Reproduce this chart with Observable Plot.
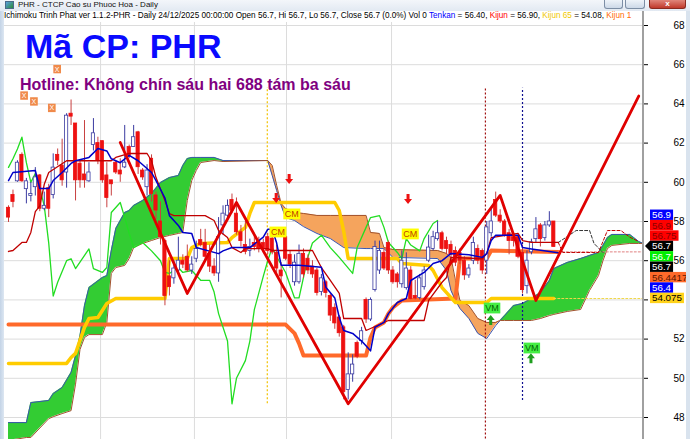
<!DOCTYPE html>
<html><head><meta charset="utf-8">
<script src="https://cdn.jsdelivr.net/npm/d3@7"></script>
<script src="https://cdn.jsdelivr.net/npm/@observablehq/plot@0.6"></script>
<style>
html,body{margin:0;padding:0;background:#fff;}
#wrap{position:relative;width:690px;height:439px;overflow:hidden;font-family:"Liberation Sans",Arial,sans-serif;background:#fff;}
#wrap svg{position:absolute;left:0;top:0;}
.ov{position:absolute;white-space:nowrap;line-height:1;}
#titlebar{left:0;top:0;width:690px;height:11px;background:linear-gradient(#f3f6fa,#e2e9f2);}
#ttext{left:18px;top:1px;font-size:8px;color:#111;}
#icon{left:5px;top:1px;width:9px;height:8px;background:linear-gradient(135deg,#5aa0e0,#2a8a3a);border:1px solid #4a6a8a;box-sizing:border-box;}
.btn{top:0;height:9px;border:1px solid #7d8ea5;border-top:none;border-radius:0 0 3px 3px;box-sizing:border-box;background:linear-gradient(#eef3f9,#cdd9e8);}
#bclose{background:linear-gradient(#e0857a,#c0392b);border-color:#8a2a20;color:#fff;font-size:8px;font-weight:bold;text-align:center;line-height:8px;}
#header{left:4px;top:11px;width:636px;height:10px;background:#fff;font-size:8.2px;color:#000;overflow:hidden;padding-top:1px;}
#lstrip{left:0;top:11px;width:4px;height:428px;background:linear-gradient(90deg,#c3d3e6,#dde7f2);}
#rstrip{left:686px;top:11px;width:4px;height:428px;background:#d9e3ee;}
#t1{left:25px;top:31.2px;font-size:34px;line-height:30px;font-weight:bold;color:#0a0aff;}
#t2{left:20px;top:78px;font-size:16px;line-height:13px;font-weight:bold;color:#800080;}
</style></head>
<body><div id="wrap"></div>
<script>
// ---------- data (bar index) ----------
const candleOpen  = [58.7,59.35,60.05,61.4,59.65,59.3,59.75,60.35,58.65,59.7,59.35,61.4,60.85,60.5,63.5,63.0,60.95,60.4,60.05,61.9,62.0,62.1,60.35,60.1,61.0,60.6,60.76,61.8,61.8,62.55,60.6,59.75,61.2,59.33,58.0,57.0,55.2,55.1,55.5,56.0,56.2,55.5,56.1,57.05,56.9,56.35,55.7,55.35,57.8,58.3,59.1,58.4,57.45,56.8,56.5,56.9,57.0,56.9,57.2,57.13,56.4,55.5,57.2,56.3,54.9,54.9,56.35,56.1,55.7,55.5,54.4,54.9,54.2,53.6,53.1,52.6,49.4,50.2,51.8,51.9,54.0,53.0,54.5,55.5,56.4,56.9,55.5,55.3,54.8,54.6,55.5,54.2,54.1,54.65,56.0,56.6,57.1,57.4,57.0,56.8,56.5,56.4,56.0,55.25,56.0,56.6,56.5,56.0,57.4,59.1,58.3,58.0,57.4,57.2,57.2,56.4,54.7,56.43,57.1,57.8,57.15,57.8,58.0];
const candleHigh  = [58.8,59.6,61.1,61.5,60.2,60.0,60.75,60.4,59.5,59.9,61.45,61.7,62.2,63.5,64.2,63.0,61.1,63.15,61.0,63.25,62.3,62.1,61.0,60.1,61.1,61.2,62.9,61.9,62.9,62.6,60.7,60.9,61.4,59.5,59.0,57.1,56.0,56.0,57.2,56.3,56.8,56.2,57.0,57.6,57.6,56.8,56.1,58.2,58.8,59.1,59.4,59.2,57.8,58.0,57.1,57.3,57.2,57.1,57.4,57.3,56.8,55.9,57.3,56.5,56.3,56.8,56.6,56.3,56.0,55.6,55.3,55.0,54.3,53.8,53.2,52.7,51.3,51.2,51.9,52.6,54.1,54.1,57.0,57.0,56.6,57.0,55.7,55.4,56.5,56.4,55.7,55.0,55.3,55.7,57.3,57.5,58.0,57.5,57.2,57.0,56.7,56.6,56.2,55.8,57.2,56.8,56.6,58.0,58.7,59.5,58.6,58.1,57.6,57.4,57.3,56.8,56.5,57.1,58.2,57.9,58.0,58.5,58.0];
const candleLow   = [57.95,58.7,60.0,60.0,58.9,59.0,59.3,58.5,58.55,58.2,59.15,60.85,59.8,59.7,62.9,59.05,59.7,59.7,60.0,61.6,60.9,59.95,58.7,59.3,60.4,60.0,60.7,61.2,61.8,60.4,60.1,59.3,59.0,58.1,56.8,53.7,54.2,54.8,55.4,55.6,55.4,55.3,55.9,56.7,55.9,55.4,55.2,54.9,57.3,58.1,58.4,57.3,56.7,56.3,56.2,56.5,56.4,56.4,56.3,56.3,55.2,54.1,56.0,55.6,54.7,54.8,55.1,55.3,55.1,54.2,54.2,54.1,52.9,52.5,52.1,48.9,48.9,49.8,51.0,51.7,52.8,52.9,54.4,55.3,55.5,55.3,54.8,54.6,54.6,54.5,54.0,54.0,54.0,54.5,55.9,56.5,57.0,56.5,56.3,56.1,55.7,55.8,55.0,55.1,55.8,55.8,55.3,55.3,57.2,58.2,57.9,57.2,56.3,56.7,56.1,54.3,54.3,56.3,56.9,56.7,57.0,57.7,56.7];
const candleClose = [58.2,59.0,61.0,60.05,60.05,59.4,60.25,58.65,58.8,58.65,60.75,61.1,60.1,63.4,63.35,60.1,60.1,60.1,60.5,62.5,61.1,60.1,59.2,59.9,60.5,60.4,61.0,61.35,62.3,60.77,60.25,60.6,59.4,58.56,57.2,54.2,54.65,55.6,56.0,55.8,55.5,55.8,56.6,56.8,56.2,55.7,55.35,57.2,58.4,58.8,58.55,57.45,57.0,56.45,56.7,56.7,56.6,56.6,56.5,56.42,55.6,55.2,56.1,55.8,55.9,56.35,55.3,55.5,55.3,54.35,55.1,54.35,53.2,52.8,52.3,49.3,50.2,50.7,51.1,52.4,53.0,54.0,56.7,56.5,55.6,55.5,54.9,54.9,56.0,55.6,54.05,54.07,55.1,55.5,56.67,57.2,57.4,56.6,56.6,56.3,55.9,56.0,55.25,55.6,56.9,56.0,55.5,57.7,58.0,58.3,58.0,57.3,57.0,57.0,56.2,54.5,56.0,56.94,57.6,57.1,57.8,58.0,56.7];

const tenkanPts = [[0,60.09],[1,60.5],[6,60.6],[7,59.68],[9,59.68],[10,60.09],[12,60.5],[14,60.96],[15,61.1],[18,61.27],[20,61.72],[22,61.6],[23,61.2],[25,61.0],[27,61.37],[29,61.1],[32,60.5],[33,60.09],[35,59.2],[36,58.3],[38,57.8],[39,57.44],[41,57.39],[42,56.67],[47,56.36],[48,56.5],[50,56.67],[54,56.67],[57,57.2],[58,57.6],[59,57.6],[60,56.9],[61,55.77],[65,55.77],[70,55.67],[71,54.65],[73,54.1],[74,53.1],[75,52.44],[77,52.29],[79,51.9],[81,51.4],[82,52.6],[84,52.85],[85,53.3],[87,53.87],[89,54.07],[90,54.99],[93,55.4],[95,55.86],[97,56.0],[99,56.37],[103,56.3],[106,56.17],[107,56.37],[108,57.03],[109,57.3],[114,57.3],[115,56.67],[117,56.6],[123,56.4]];
const kijunPts = [[0,56.47],[1,56.52],[3,56.93],[4,56.93],[5,57.44],[6,58.5],[7,58.8],[8,59.9],[9,60.5],[13,61.1],[23,61.1],[24,61.27],[27,61.47],[31,61.47],[32,61.1],[33,60.24],[35,59.07],[36,58.4],[37,58.3],[44,58.3],[46,58.05],[47,57.54],[49,57.18],[50,56.67],[52,56.42],[53,56.62],[58,56.62],[59,56.52],[68,56.52],[70,55.65],[72,55.0],[74,54.33],[75,53.05],[79,53.05],[80,52.44],[81,52.54],[85,52.95],[93,52.95],[94,53.97],[97,54.9],[98,55.14],[99,56.17],[106,56.1],[107,56.37],[108,57.18],[114,57.39],[115,57.03],[117,56.93],[123,56.93]];
const chikouPts = [[0,60.76],[1,61.2],[2,61.7],[3,62.3],[4,61.0],[5,60.0],[6,60.45],[7,59.7],[8,58.8],[9,56.9],[10,54.2],[11,54.9],[13,56.0],[14,56.1],[15,55.6],[18,56.6],[19,55.6],[21,55.4],[22,55.65],[23,58.46],[25,58.97],[26,58.2],[27,57.4],[28,56.67],[30,56.93],[32,56.5],[34,56.0],[35,55.4],[36,55.35],[38,55.65],[39,55.4],[41,55.5],[43,55.0],[45,55.0],[46,54.4],[47,53.3],[49,51.9],[50,48.7],[51,50.0],[53,50.9],[54,51.9],[55,53.5],[57,55.2],[58,56.0],[59,56.67],[60,56.2],[62,55.4],[64,54.1],[65,54.1],[67,56.2],[68,56.9],[70,57.3],[72,56.67],[74,56.17],[77,55.35],[78,56.67],[80,57.7],[81,58.2],[83,58.3],[84,57.7],[85,56.93],[87,56.42],[88,56.1],[89,57.13],[90,56.8],[92,56.5],[93,57.13],[95,57.9],[96,58.05]];
// cloud: [bar, senkou A, senkou B]
const cloudPts = [[0,47.74,46.83],[4,47.74,46.98],[5,48.76,46.98],[9,48.87,47.94],[10,49.22,48.04],[12,49.53,48.2],[14,50.3,48.35],[15,51.16,49.7],[16,52.18,51.47],[17,53.71,52.08],[18,54.63,52.23],[21,55.14,52.23],[22,55.24,52.84],[23,56.52,55.35],[24,57.64,55.65],[26,58.46,55.76],[27,58.56,56.11],[28,58.82,56.67],[30,59.07,56.88],[32,59.43,57.03],[34,59.99,57.18],[36,60.24,57.29],[38,60.35,57.39],[39,60.86,57.44],[40,61.21,59.07],[41,61.27,60.09],[42,61.27,60.6],[43,61.27,61.01],[46,61.27,61.11],[48,61.11,61.06],[58,61.11,61.11],[59,60.35,60.86],[60,59.58,59.84],[61,58.82,58.92],[62,58.2,58.66],[64,58.05,58.46],[66,57.74,58.41],[69,57.39,58.31],[72,57.13,58.31],[75,56.67,58.31],[80,56.62,58.31],[81,56.62,57.44],[83,56.62,57.39],[84,56.62,56.67],[86,56.17,56.57],[96,56.11,56.52],[98,55.5,56.37],[99,54.48,56.17],[100,53.97,54.99],[101,53.56,53.97],[103,53.05,53.71],[105,52.29,53.05],[107,52.03,52.85],[109,52.69,52.85],[110,52.95,52.95],[111,53.2,52.95],[113,53.71,52.95],[115,53.82,52.95],[117,54.07,52.95],[119,54.38,53.05],[121,54.99,53.2],[122,55.6,53.26],[125,55.91,53.41],[128,56.11,53.51],[130,56.27,54.48],[132,56.42,55.24],[133,56.78,56.0],[134,57.18,56.62],[135,57.34,56.78],[139,57.34,56.88],[141,56.98,56.88],[142,56.88,56.88]];
const kijun65Pts = [[0,50.76],[13,50.76],[14,51.06],[15,51.27],[17,52.6],[18,53.05],[20,53.1],[21,53.46],[22,53.82],[24,54.07],[35,54.07],[36,56.11],[40,56.11],[41,56.67],[43,56.88],[49,56.93],[50,57.18],[53,57.7],[54,58.41],[55,58.97],[73,58.97],[74,58.56],[75,57.5],[76,56.11],[87,56.11],[88,55.86],[94,55.76],[95,55.5],[97,54.63],[99,54.12],[100,53.87],[107,53.87],[108,54.07],[122,54.07]];
const kijunLongPts = [[0,52.74],[62,52.74],[64,52.29],[65,51.78],[66,51.16],[80,51.16],[81,52.08],[82,52.59],[84,52.85],[85,53.3],[86,53.61],[88,53.97],[100,54.07],[101,56.11],[107,56.11],[108,56.52],[123,56.44]];
const zigzagPts = [[25,62.03],[40,54.33],[51,58.97],[76,48.7],[110,59.33],[118,53.97],[141,64.4]];
const projBlackPts = [[123,56.93],[125,57.23],[127,57.54],[130,57.54],[131,56.88],[133,56.42]];
const projRedPts = [[123,56.93],[124,56.42],[132,56.42],[134,57.54],[137,57.54],[139,57.2],[141,56.98]];
const dotPinkPts = [[123,56.45],[144,56.45]];
const dotYellowPts = [[122,54.07],[144,54.07]];
// vertical dotted markers: [bar, from, to, colour]
const vLines = [[57.9,48.7,64.84,"#f2c200"],[106.7,46.5,64.8,"#a01010"],[115,48.87,64.8,"#101090"]];
const gridBars = [20.6,41.6,62.2,85.7];
const yTicks = [48,50,52,54,56,58,60,62,64,66,68];
// signal labels [bar, value]
const cmPts = [[60.4,57.44],[63.5,58.36],[90,57.34]];
const vmPts = [[108.3,53.56],[117.2,51.52]];
const upArrowPts = [[108,52.95],[117,51.0]];
const downArrowPts = [[60,59.17],[62.9,60.14],[89.5,59.12]];
const xMarkPts = [[3.6,64.4],[5.8,64.1],[9.8,63.77],[11,65.75]];
// value tags on the price axis
const tagTexts = ["56.9","56.9","56.75","56.7","56.7","56.7","56.4417","56.4","54.075"];
const tagValues = [56.9,56.9,56.75,56.7,56.7,56.7,56.4417,56.4,54.075];
const tagFills = ["#0000ff","#ff0000","#ff0000","#000000","#00ee00","#000000","#ff6a2a","#0000ff","#ffd21a"];
const tagInks = ["#ffffff","#8a0000","#8a0000","#ffffff","#ffffff","#ffffff","#5a1500","#ffffff","#000000"];

// ---------- build ----------
const candles = candleOpen.map((o,i)=>({i,o,h:candleHigh[i],l:candleLow[i],c:candleClose[i],up:candleClose[i]>=o}));
const P = a => a.map(([i,v])=>({i,v}));
const cloud = cloudPts.map(([i,a,b])=>({i,a,b,m:Math.max(a,b)}));
const vl = vLines.map(([i,y1,y2,c])=>({i,y1,y2,c}));
const F = "Liberation Sans, Arial, sans-serif";
// the lowest axis tag hides the tick label it sits on
const hiddenTick = Math.round(Math.min(...tagValues));

const chart = Plot.plot({
  width: 690, height: 439,
  marginLeft: 4, marginRight: 47, marginTop: 22, marginBottom: 0,
  style: {background: "transparent", fontFamily: F, overflow: "visible"},
  x: {domain: [0, 122], range: [8, 553.3], axis: null},
  y: {domain: [48, 68], range: [417, 25]},
  marks: [
    Plot.ruleY(yTicks, {stroke: "#dcdcdc", strokeWidth: 1}),
    Plot.ruleX(gridBars, {stroke: "#dcdcdc", strokeWidth: 1}),
    Plot.areaY(cloud, {x: "i", y1: "b", y2: "m", fill: "#33cc33", clip: true}),
    Plot.areaY(cloud, {x: "i", y1: "a", y2: "m", fill: "#f5a45d", clip: true}),
    Plot.line(cloud, {x: "i", y: "a", stroke: "#3a55b0", strokeWidth: 1, clip: true}),
    Plot.line(cloud, {x: "i", y: "b", stroke: "#a0522d", strokeWidth: 1, clip: true}),
    Plot.ruleX(vl, {x: "i", y1: "y1", y2: "y2", stroke: "c", strokeWidth: 1.2, strokeDasharray: "2,2", clip: true}),
    Plot.line(P(kijunLongPts), {x: "i", y: "v", stroke: "#ff6a2a", strokeWidth: 4, clip: true}),
    Plot.line(P(kijun65Pts), {x: "i", y: "v", stroke: "#ffcc00", strokeWidth: 3.5, clip: true}),
    Plot.line(P(dotYellowPts), {x: "i", y: "v", stroke: "#f0d84a", strokeWidth: 1, strokeDasharray: "2,2", clip: true}),
    Plot.line(P(dotPinkPts), {x: "i", y: "v", stroke: "#e08080", strokeWidth: 1, strokeDasharray: "2,2", clip: true}),
    Plot.line(P(chikouPts), {x: "i", y: "v", stroke: "#22dd22", strokeWidth: 1.3, clip: true}),
    Plot.ruleX(candles, {x: "i", y1: "l", y2: "h", stroke: d => d.up ? "#3a3aa0" : "#c84040", strokeWidth: 1, clip: true}),
    Plot.rect(candles, {x1: d => d.i - 0.36, x2: d => d.i + 0.36, y1: "o", y2: "c",
      fill: d => d.up ? "#ffffff" : "#ee1111", stroke: d => d.up ? "#3a3aa0" : "#ee1111", strokeWidth: 0.8, clip: true}),
    Plot.line(P(kijunPts), {x: "i", y: "v", stroke: "#c00000", strokeWidth: 1.3, clip: true}),
    Plot.line(P(tenkanPts), {x: "i", y: "v", stroke: "#0000c8", strokeWidth: 1.5, clip: true}),
    Plot.line(P(projBlackPts), {x: "i", y: "v", stroke: "#333", strokeWidth: 1, strokeDasharray: "3,2", clip: true}),
    Plot.line(P(projRedPts), {x: "i", y: "v", stroke: "#c00000", strokeWidth: 1, strokeDasharray: "3,2", clip: true}),
    Plot.line(P(zigzagPts), {x: "i", y: "v", stroke: "#e00000", strokeWidth: 2.8, clip: true}),
    Plot.axisY({anchor: "right", ticks: yTicks, tickSize: 4, tickPadding: 26, fontSize: 10, label: null, color: "#000",
      tickFormat: d => d === hiddenTick ? "" : String(d)})
  ]
});

const wrap = document.getElementById("wrap");
wrap.appendChild(chart);
const xs = v => chart.scale("x").apply(v);
const ys = v => chart.scale("y").apply(v);
const svg = d3.select(chart);

// axis line
svg.append("line").attr("x1", 643).attr("x2", 643).attr("y1", 11).attr("y2", 439)
  .attr("stroke", "#a0a0a0").attr("stroke-width", 2);

function tag(g, cx, cy, text, bg, ink, fs, pad) {
  const grp = g.append("g");
  const r = grp.append("rect");
  const t = grp.append("text").attr("x", cx).attr("y", cy).attr("text-anchor", "middle")
    .attr("dy", "0.35em").attr("font-size", fs).attr("font-family", F).attr("fill", ink).text(text);
  const w = t.node().getComputedTextLength();
  r.attr("x", cx - w / 2 - pad).attr("y", cy - fs * 0.6).attr("width", w + 2 * pad).attr("height", fs * 1.2).attr("fill", bg);
}
const lab = svg.append("g");
cmPts.forEach(([i, v]) => tag(lab, xs(i), ys(v), "CM", "#ffff00", "#c04000", 9, 1.5));
vmPts.forEach(([i, v]) => tag(lab, xs(i), ys(v), "VM", "#44ee44", "#006400", 9, 1.5));
xMarkPts.forEach(([i, v]) => tag(lab, xs(i), ys(v), "X", "#f08a4a", "#ffffff", 7, 1.5));
upArrowPts.forEach(([i, v]) => {
  lab.append("path").attr("transform", `translate(${xs(i)},${ys(v)})`)
    .attr("d", "M0,-5L4,0L1.5,0L1.5,5L-1.5,5L-1.5,0L-4,0Z").attr("fill", "#1e9e1e");
});
downArrowPts.forEach(([i, v]) => {
  lab.append("path").attr("transform", `translate(${xs(i)},${ys(v)})`)
    .attr("d", "M0,5L4,0L1.5,0L1.5,-5L-1.5,-5L-1.5,0L-4,0Z").attr("fill", "#ee1111");
});

// stacked value tags at the axis (anchored on the lowest value)
const th = 10.4, n = tagValues.length;
const yBottom = ys(Math.min(...tagValues));
const tg = svg.append("g");
tagValues.forEach((v, k) => {
  const cy = yBottom - (n - 1 - k) * th;
  const r = tg.append("rect");
  const t = tg.append("text").attr("x", 652).attr("y", cy).attr("dy", "0.36em").attr("text-anchor", "start")
    .attr("font-size", 9.8).attr("font-family", F).attr("fill", tagInks[k]).text(tagTexts[k]);
  const w = t.node().getComputedTextLength();
  r.attr("x", 650).attr("y", cy - th / 2).attr("width", w + 4).attr("height", th).attr("fill", tagFills[k]);
  if (k === 3) tg.append("path").attr("d", `M650,${cy - th / 2}L645,${cy}L650,${cy + th / 2}Z`).attr("fill", "#000");
});

// overlays: window chrome and texts
wrap.insertAdjacentHTML("beforeend", `
<div class="ov" id="lstrip"></div><div class="ov" id="rstrip"></div>
<div class="ov" id="titlebar"></div>
<div class="ov" id="icon"></div>
<div class="ov" id="ttext">PHR - CTCP Cao su Phuoc Hoa - Daily</div>
<div class="ov btn" style="left:604px;width:19px"></div>
<div class="ov btn" style="left:625px;width:20px"></div>
<div class="ov btn" id="bclose" style="left:649px;width:37px">x</div>
<div class="ov" id="header">Ichimoku Trinh Phat ver 1.1.2-PHR - Daily 24/12/2025 00:00:00 Open 56.7, Hi 56.7, Lo 56.7, Close 56.7 (0.0%) Vol 0 <span style="color:#0000ff">Tenkan</span>  = 56.40, <span style="color:#ff0000">Kijun</span> = 56.90, <span style="color:#f0c800">Kijun 65</span>  = 54.08, <span style="color:#ff6a00">Kijun 1</span></div>
<div class="ov" id="t1">Mã CP: PHR</div>
<div class="ov" id="t2">Hotline: Không chín sáu hai 688 tám ba sáu</div>
`);
</script></body></html>
